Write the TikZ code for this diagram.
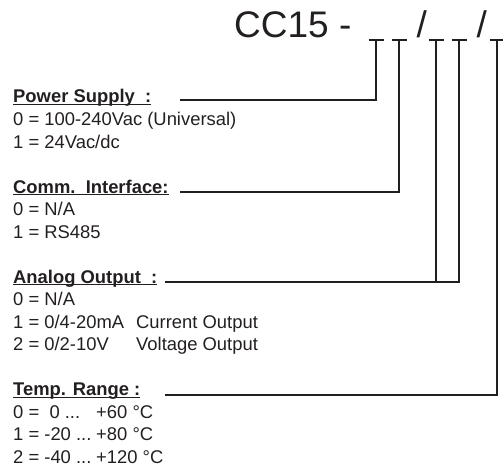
\documentclass[tikz,border=0pt]{standalone}
\usepackage{fontspec}
\setmainfont{Liberation Sans}
\usetikzlibrary{calc}
\definecolor{codeblack}{RGB}{35,31,32}
\newcommand{\ulhead}[1]{\setbox0\hbox{#1}\rlap{\rule[-2.4pt]{\wd0}{1.2pt}}\box0}

\begin{document}
\begin{tikzpicture}[x=1pt,y=-1pt,
    heading/.style={anchor=base west,inner sep=0pt,text=codeblack,font=\fontsize{18.4}{22}\selectfont\bfseries},
    item/.style={anchor=base west,inner sep=0pt,text=codeblack,font=\fontsize{18.4}{22}\selectfont},
    big/.style={anchor=base west,inner sep=0pt,text=codeblack,font=\fontsize{37}{40}\selectfont},
    lead/.style={codeblack,line width=1.2pt},
    bar/.style={codeblack,line width=1.8pt}]
    \useasboundingbox (0,0) rectangle (503,468);

    % Order code
    \node[big] (code) at (234,38) {CC15 -};
    \node[big] (sl1) at (416.5,38) {/};
    \node[big] (sl2) at (476.5,38) {/};
    \foreach \n/\x in {1/376,2/399,3/436,4/459,5/497}{
        \coordinate (t\n) at (\x,40);
        \draw[bar] ($(t\n)+(-7.5,0)$) -- ($(t\n)+(7.5,0)$);
    }

    % Power supply
    \node[heading] (ps) at (13,103) {\ulhead{Power Supply\ \ :}};
    \node[item] (ps0) at (13,125.5) {0 = 100-240Vac (Universal)};
    \node[item] (ps1) at (13,148) {1 = 24Vac/dc};
    \coordinate (ps-l) at (180,100);
    \draw[lead] (ps-l) -| (t1);

    % Communication
    \node[heading] (ci) at (13,193) {\ulhead{Comm.\ \ Interface:}};
    \node[item] (ci0) at (13,215.5) {0 = N/A};
    \node[item] (ci1) at (13,238) {1 = RS485};
    \coordinate (ci-l) at (180,192);
    \draw[lead] (ci-l) -| (t2);

    % Analog output
    \node[heading] (ao) at (13,283) {\ulhead{Analog Output\ \ :}};
    \node[item] (ao0) at (13,305.5) {0 = N/A};
    \node[item] (ao1) at (13,328) {\makebox[123pt][l]{1 = 0/4-20mA}Current Output};
    \node[item] (ao2) at (13,350.5) {\makebox[123pt][l]{2 = 0/2-10V}Voltage Output};
    \coordinate (ao-l) at (165,282);
    \draw[lead] (ao-l) -| (t4);
    \draw[lead] (t3) -- (t3 |- ao-l);

    % Temperature range
    \node[heading] (tr) at (13,395.5) {\ulhead{Temp. Range :}};
    \node[item] (tr0) at (13,418) {\makebox[83pt][l]{0 =\ \ 0 ...}+60 °C};
    \node[item] (tr1) at (13,440.5) {\makebox[83pt][l]{1 = -20 ...}+80 °C};
    \node[item] (tr2) at (13,463) {\makebox[83pt][l]{2 = -40 ...}+120 °C};
    \coordinate (tr-l) at (165,395);
    \draw[lead] (tr-l) -| (t5);
\end{tikzpicture}
\end{document}
